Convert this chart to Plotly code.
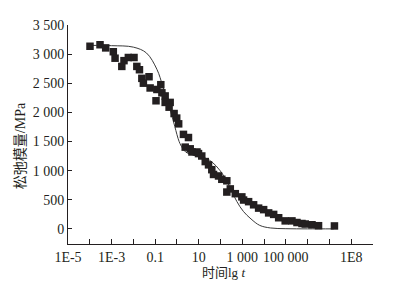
import plotly.graph_objects as go

# Measured data: log10(t) and relaxation modulus (MPa)
lg_t = [-3.99, -3.53, -3.27, -2.92, -2.84, -2.53, -2.43, -2.23, -1.97, -1.84,
        -1.72, -1.61, -1.54, -1.28, -1.23, -0.96, -0.92, -0.74, -0.69, -0.54,
        -0.54, -0.31, -0.36, -0.13, -0.01, 0.08, 0.30, 0.53, 0.38, 0.61,
        0.69, 0.92, 0.99, 1.14, 1.30, 1.45, 1.60, 1.68, 1.91, 2.06,
        2.29, 2.45, 2.29, 2.68, 2.98, 3.06, 3.29, 3.52, 3.75, 3.98,
        4.21, 4.44, 4.67, 4.97, 5.28, 5.51, 5.74, 5.89, 6.20, 6.50, 7.23]
modulus = [3135, 3161, 3107, 3041, 2930, 2789, 2888, 2942, 2942, 2789,
           2732, 2584, 2501, 2612, 2419, 2199, 2393, 2475, 2336, 2282,
           2171, 2171, 2089, 1980, 1902, 1803, 1622, 1568, 1403, 1374,
           1320, 1320, 1292, 1251, 1155, 1099, 1016, 934, 908, 851,
           825, 686, 632, 604, 549, 495, 467, 413, 356, 330,
           274, 248, 191, 137, 137, 109, 92, 83, 71, 54, 50]

# Fitted curve
fit_lg_t = [-4.0, -3.0, -2.0, -1.4, -0.92, -0.65, -0.35, -0.1, 0.1, 0.25,
            0.4, 0.75, 1.1, 1.4, 1.8, 2.15, 2.4, 2.75, 3.05, 3.4,
            3.8, 4.3, 5.0, 6.0, 7.2]
fit_modulus = [3150, 3145, 3120, 3020, 2740, 2450, 2100, 1760, 1500, 1390,
               1320, 1265, 1235, 1200, 1080, 910, 740, 470, 300, 170,
               60, 15, 3, 0, 0]

x_tick_exp = list(range(-5, 10))
x_tick_text = ["1E-5", "", "1E-3", "", "0.1", "", "10", "", "1 000", "",
               "100 000", "", "", "1E8", ""]
y_tick_vals = [0, 500, 1000, 1500, 2000, 2500, 3000, 3500]
y_tick_text = ["0", "500", "1 000", "1 500", "2 000", "2 500", "3 000", "3 500"]

ink = "#231f20"
serif = "Liberation Serif, Times New Roman, serif"
cjk = "Liberation Serif, Noto Sans CJK SC, serif"

L, R, T, B = 60, 30, 10, 57
W, H = 395, 293
pw, ph = W - L - R, H - T - B

fig = go.Figure()
fig.add_trace(go.Scatter(
    x=[10 ** v for v in fit_lg_t], y=fit_modulus, mode="lines",
    line=dict(color="#3a3a3a", width=1, shape="spline", smoothing=1.0),
    showlegend=False, hoverinfo="skip"))
fig.add_trace(go.Scatter(
    x=[10 ** v for v in lg_t], y=modulus, mode="markers",
    marker=dict(symbol="square", size=7.5, color=ink, line=dict(width=0)),
    showlegend=False))

fig.update_layout(
    width=W, height=H,
    margin=dict(l=L, r=R, t=T, b=B),
    paper_bgcolor="white", plot_bgcolor="white",
    font=dict(family=serif, size=14, color=ink),
    xaxis=dict(type="log", range=[-5, 9],
               tickvals=[10 ** e for e in x_tick_exp], ticktext=x_tick_text,
               ticks="inside", ticklen=5, tickwidth=1, tickcolor=ink,
               showline=True, linecolor=ink, linewidth=1,
               showgrid=False, zeroline=False,
               tickfont=dict(family=serif, size=14, color=ink)),
    yaxis=dict(range=[-260, 3500],
               tickvals=y_tick_vals, ticktext=y_tick_text,
               ticks="inside", ticklen=4, tickwidth=1, tickcolor=ink,
               showline=True, linecolor=ink, linewidth=1,
               showgrid=False, zeroline=False,
               tickfont=dict(family=serif, size=14, color=ink)),
    annotations=[
        dict(text="时间lg <i>t</i>", xref="paper", yref="paper",
             x=(215 - L) / pw, y=-(265 - (H - B)) / ph,
             xanchor="center", yanchor="middle", showarrow=False,
             font=dict(family=cjk, size=13, color=ink)),
        dict(text="松弛模量/MPa", xref="paper", yref="paper",
             x=-(L - 12) / pw, y=((H - B) - 134) / ph,
             xanchor="center", yanchor="middle", showarrow=False, textangle=-90,
             font=dict(family=cjk, size=14, color=ink)),
    ],
)

fig.write_html("out.html")
